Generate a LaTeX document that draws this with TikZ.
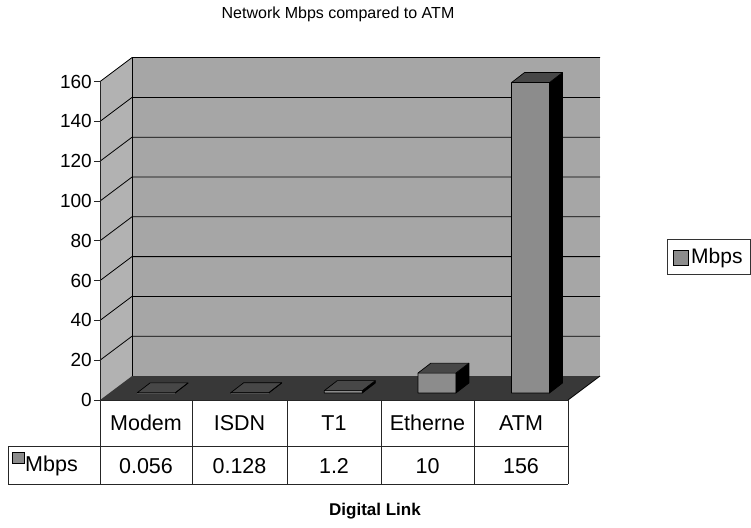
\documentclass[tikz,border=0pt]{standalone}
\usepackage{fontspec}
\setmainfont{Liberation Sans}
\begin{document}
\begin{tikzpicture}[x=1pt,y=-1pt,
  backwall/.style={fill=black!35},
  sidewall/.style={fill=black!30},
  floorface/.style={fill=black!78},
  gridline/.style={black,line width=0.8pt},
  ticklabel/.style={font=\fontsize{19}{19}\selectfont,anchor=east,inner sep=0pt},
  cell/.style={font=\fontsize{21.5}{21.5}\selectfont,inner sep=0pt},
  tline/.style={black!85,line width=0.9pt},
  swatch/.style={draw=black,line width=0.8pt,fill=black!45},
  barfront/.style={fill=black!45},
  barside/.style={fill=black},
  bartop/.style={fill=black!72},
  baredge/.style={draw=black,line width=0.7pt,line join=round}]
\useasboundingbox (0,0) rectangle (751,527);
\fill[white] (0,0) rectangle (751,527);

% title
\node[font=\fontsize{16}{16}\selectfont] (title) at (338,14) {Network Mbps compared to ATM};

% walls and floor
\fill[backwall] (132,57.6) rectangle (600,376);
\fill[sidewall] (100,400) -- (132,376) -- (132,57.6) -- (100,81.6) -- cycle;
\fill[floorface] (100,400) -- (568,400) -- (600,376) -- (132,376) -- cycle;

% gridlines
\foreach \v in {20,40,...,160}{
  \pgfmathsetmacro\yf{400-1.99*\v}
  \pgfmathsetmacro\yb{376-1.99*\v}
  \draw[gridline] (100,\yf) -- (132,\yb) -- (600,\yb);
}
\draw[gridline] (132,57.6) -- (132,376);
\draw[gridline] (568,400) -- (600,376);

% axis, ticks and labels
\draw[tline] (100,81.6) -- (100,400);
\foreach \v in {0,20,...,160}{
  \pgfmathsetmacro\yf{400-1.99*\v}
  \draw[tline] (94,\yf) -- (100,\yf);
  \node[ticklabel] (tick\v) at (92,\yf) {\v};
}

% bars
\newcommand\mybar[2]{%
  \pgfmathsetmacro\xl{#1+9.3-19}%
  \pgfmathsetmacro\xr{#1+9.3+19}%
  \pgfmathsetmacro\yt{393-1.99*#2}%
  \fill[barfront] (\xl,393) rectangle (\xr,\yt);
  \fill[barside] (\xr,393) -- (\xr+13,383) -- (\xr+13,\yt-10) -- (\xr,\yt) -- cycle;
  \fill[bartop] (\xl,\yt) -- (\xl+13,\yt-10) -- (\xr+13,\yt-10) -- (\xr,\yt) -- cycle;
  \draw[baredge] (\xl,393) -- (\xl,\yt) -- (\xl+13,\yt-10) -- (\xr+13,\yt-10) -- (\xr+13,383) -- (\xr,393) -- cycle;
  \draw[baredge] (\xl,\yt) -- (\xr,\yt) -- (\xr+13,\yt-10) (\xr,\yt) -- (\xr,393);
}
\mybar{146.8}{0.056}
\mybar{240.4}{0.128}
\mybar{334}{1.2}
\mybar{427.6}{10}
\mybar{521.2}{156}

% floor front edge / table
\draw[tline] (100,400) -- (568,400);
\foreach \x in {192,287,381,474,568}{
  \draw[tline] (\x,400) -- (\x,484);
}
\draw[tline] (100,400) -- (100,484);
\draw[tline] (8,446) -- (568,446);
\draw[tline] (8,484) -- (568,484);
\draw[tline] (8,446) -- (8,484);

\node[cell] (cModem) at (146,423) {Modem};
\node[cell] (cISDN) at (239.5,423) {ISDN};
\node[cell] (cT1) at (334,423) {T1};
\node[cell] (cEth) at (427.5,423) {Etherne};
\node[cell] (cATM) at (521,423) {ATM};

\fill[swatch] (12,452) rectangle (24,463);
\node[cell,anchor=west] (rowlabel) at (25,466) {Mbps};
\node[cell] (vModem) at (146,466) {0.056};
\node[cell] (vISDN) at (239.5,466) {0.128};
\node[cell] (vT1) at (334,466) {1.2};
\node[cell] (vEth) at (427.5,466) {10};
\node[cell] (vATM) at (521,466) {156};

% axis title
\node[font=\fontsize{17}{17}\selectfont\bfseries] (xtitle) at (375,511) {Digital Link};

% legend
\draw[line width=0.8pt,black!80] (667,239) rectangle (750.5,274);
\fill[swatch] (673,250) rectangle (688,265);
\node[font=\fontsize{21}{21}\selectfont,anchor=west,inner sep=0pt] (legend) at (691,258) {Mbps};
\end{tikzpicture}
\end{document}
